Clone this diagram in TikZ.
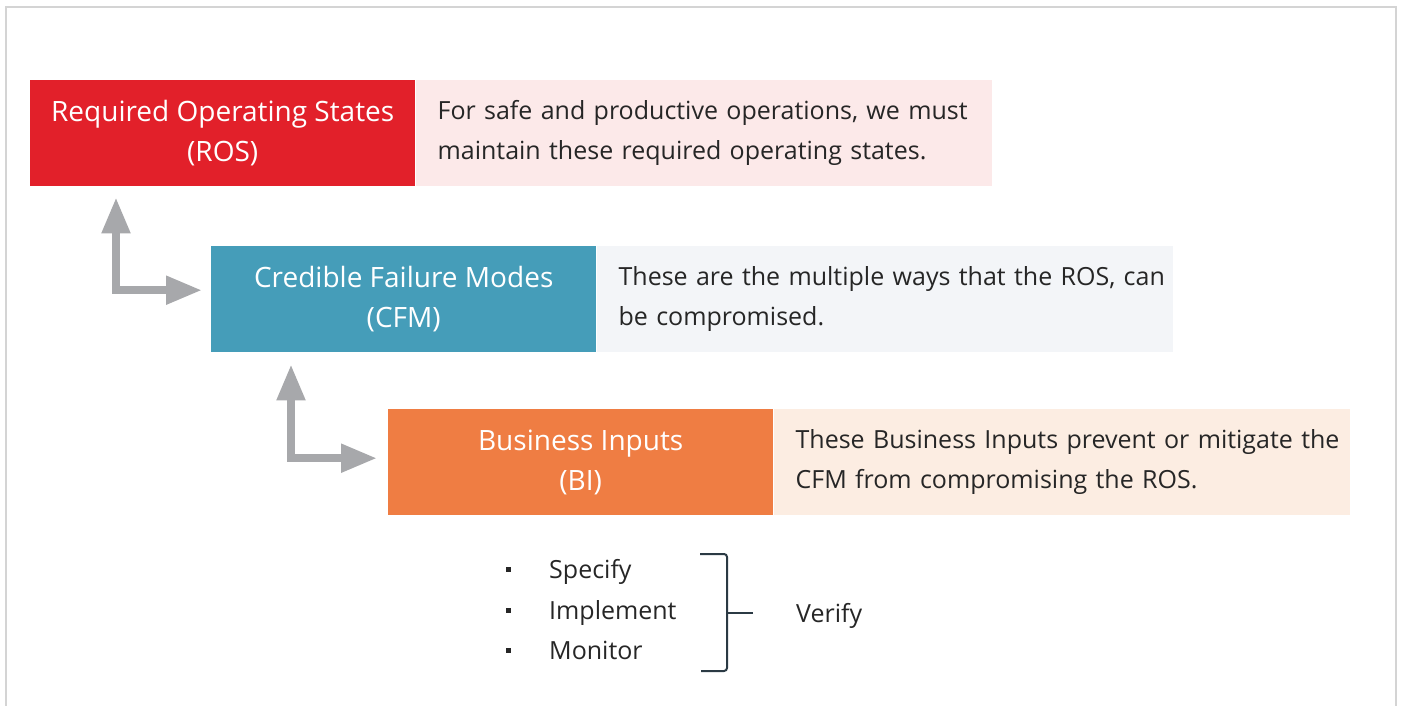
\documentclass[tikz,border=0pt]{standalone}
\usepackage{fontspec}
\setmainfont{Open Sans}
\usetikzlibrary{positioning, arrows.meta}
\definecolor{rosred}{HTML}{E2202A}
\definecolor{cfmteal}{HTML}{459DB9}
\definecolor{biorange}{HTML}{EF7D43}
\definecolor{rospink}{HTML}{FCE9E9}
\definecolor{cfmgray}{HTML}{F3F5F8}
\definecolor{bipeach}{HTML}{FCEDE2}
\definecolor{arrowgray}{HTML}{A7A8AB}
\definecolor{framegray}{HTML}{D4D4D4}
\definecolor{textdark}{HTML}{262626}
\definecolor{bracedark}{HTML}{2B3A44}

\begin{document}
\begin{tikzpicture}[
    x=1pt, y=1pt,
    font=\fontsize{25}{40}\selectfont,
    node distance=0pt,
    mainbox/.style={rectangle, anchor=north west, minimum width=385pt,
                    minimum height=106pt, inner sep=0pt, align=center, text=white,
                    font=\fontsize{28}{40}\selectfont},
    descbox/.style={rectangle, minimum height=106pt, text width=532pt,
                    inner xsep=22pt, inner ysep=0pt, align=left, text=textdark},
    larrow/.style={{Triangle[length=36pt,width=27pt]}-{Triangle[length=36pt,width=27pt]},
                   line width=8pt, draw=arrowgray},
    item/.style={anchor=west, inner sep=0pt, text height=18pt, text depth=0pt, text=textdark},
    bulletsq/.style={rectangle, fill=textdark, minimum size=5pt, inner sep=0pt},
    brace/.style={draw=bracedark, line width=2pt, rounded corners=3pt}
]
\useasboundingbox (0,0) rectangle (1401,-706);
% --- Marco ---
\draw[framegray, line width=2pt] (6,-706) -- (6,-7) -- (1396,-7) -- (1396,-706);
% --- Niveles ---
\node[mainbox, fill=rosred] (ros) at (30,-80) {Required Operating States\\(ROS)};
\node[descbox, fill=rospink, right=of ros] (rosdesc)
    {\mbox{For safe and productive operations, we must}\\
     \mbox{maintain these required operating states.}};
\node[mainbox, fill=cfmteal] (cfm) at (211,-246) {Credible Failure Modes\\(CFM)};
\node[descbox, fill=cfmgray, right=of cfm] (cfmdesc)
    {\mbox{These are the multiple ways that the ROS, can}\\
     \mbox{be compromised.}};
\node[mainbox, fill=biorange] (bi) at (388,-409) {Business Inputs\\(BI)};
\node[descbox, fill=bipeach, right=of bi] (bidesc)
    {\mbox{These Business Inputs prevent or mitigate the}\\
     \mbox{CFM from compromising the ROS.}};
% --- Flechas ---
\draw[larrow] ([xshift=86pt,yshift=-11pt]ros.south west) |- ([xshift=-9pt,yshift=9pt]cfm.west);
\draw[larrow] ([xshift=80pt,yshift=-12pt]cfm.south west) |- ([xshift=-11pt,yshift=4pt]bi.west);
% --- Lista ---
\foreach \n/\t/\y in {spec/Specify/569, impl/Implement/610, moni/Monitor/650} {
    \node[item] (\n) at (549,-\y) {\t};
    \node[bulletsq, left=38pt of \n] (\n-dot) {};
}
\node[item] (verify) at (796,-613) {Verify};
\draw[brace] (700,-554) -- (727,-554) -- (727,-671) -- (701,-671);
\draw[brace] ([xshift=-43pt]verify.west) -- ++(-26,0);
\end{tikzpicture}
\end{document}
